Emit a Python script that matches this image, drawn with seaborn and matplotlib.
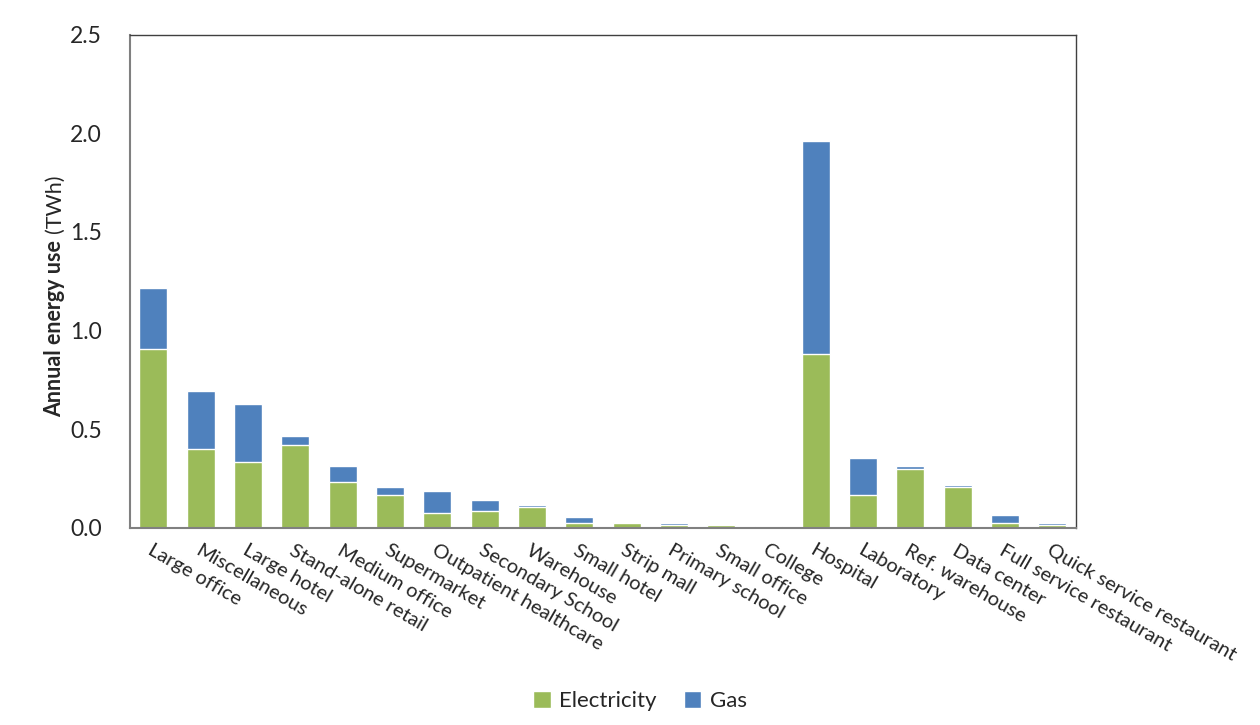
import pandas as pd
import matplotlib.pyplot as plt
import seaborn as sns

# Building types and annual energy use (TWh)
buildings = ['Large office', 'Miscellaneous', 'Large hotel', 'Stand-alone retail',
             'Medium office', 'Supermarket', 'Outpatient healthcare', 'Secondary School',
             'Warehouse', 'Small hotel', 'Strip mall', 'Primary school', 'Small office',
             'College', 'Hospital', 'Laboratory', 'Ref. warehouse', 'Data center',
             'Full service restaurant', 'Quick service restaurant']
electricity = [0.906, 0.400, 0.335, 0.418, 0.230, 0.168, 0.076, 0.083, 0.103, 0.025,
               0.024, 0.013, 0.015, 0.002, 0.883, 0.168, 0.300, 0.208, 0.025, 0.013]
gas = [0.308, 0.295, 0.295, 0.046, 0.081, 0.039, 0.112, 0.058, 0.014, 0.032,
       0.005, 0.011, 0.005, 0.005, 1.077, 0.185, 0.013, 0.008, 0.042, 0.012]

df = pd.DataFrame({'building': buildings, 'Electricity': electricity, 'Gas': gas})
df['total'] = df['Electricity'] + df['Gas']

green = '#9BBB59'
blue = '#4F81BD'

sns.set_style('white')
plt.rcParams['font.family'] = ['Lato', 'DejaVu Sans']

fig = plt.figure(figsize=(12.6, 7.25), dpi=100)
ax = fig.add_axes([0.103, 0.272, 0.751, 0.680])

# stacked: total in blue underneath, electricity in green on top
sns.barplot(data=df, x='building', y='total', color=blue, width=0.59,
            saturation=1, ax=ax, label='Gas')
sns.barplot(data=df, x='building', y='Electricity', color=green, width=0.59,
            saturation=1, ax=ax, label='Electricity')
if ax.get_legend() is not None:
    ax.get_legend().remove()

ax.set_ylim(0, 2.5)
ax.set_yticks([0, 0.5, 1.0, 1.5, 2.0, 2.5])
ax.set_yticklabels(['0.0', '0.5', '1.0', '1.5', '2.0', '2.5'], fontsize=16.5)
ax.set_xlim(-0.5, len(buildings) - 0.5)
ax.set_xlabel('')
ax.set_xticks(range(len(buildings)))
ax.set_xticklabels(buildings, rotation=-30, ha='left', rotation_mode='anchor',
                   fontsize=14.5)
ax.tick_params(axis='x', length=0, pad=10)
ax.tick_params(axis='y', length=0, pad=20)

for side in ['top', 'right']:
    ax.spines[side].set_color('#404040')
    ax.spines[side].set_linewidth(1)
for side in ['left', 'bottom']:
    ax.spines[side].set_color('#808080')
    ax.spines[side].set_linewidth(1.5)

# y label: bold words plus regular unit
ax.set_ylabel('Annual energy use', fontsize=15.5, fontweight='bold')
ax.yaxis.set_label_coords(-0.068, 0.405)
fig.canvas.draw()
bb = ax.yaxis.label.get_window_extent().transformed(fig.transFigure.inverted())
fig.text(bb.x0 + bb.width / 2, bb.y1 + 0.009, '(TWh)', rotation=90, fontsize=15.5,
         ha='center', va='bottom')

handles, labels = ax.get_legend_handles_labels()
order = [labels.index('Electricity'), labels.index('Gas')]
fig.legend([handles[i] for i in order], [labels[i] for i in order],
           loc='lower center', bbox_to_anchor=(0.508, -0.008), ncol=2, frameon=False,
           fontsize=16, handlelength=0.8, handleheight=0.8, handletextpad=0.4,
           columnspacing=1.2)

fig.savefig('out.png', dpi=100)
plt.close(fig)
